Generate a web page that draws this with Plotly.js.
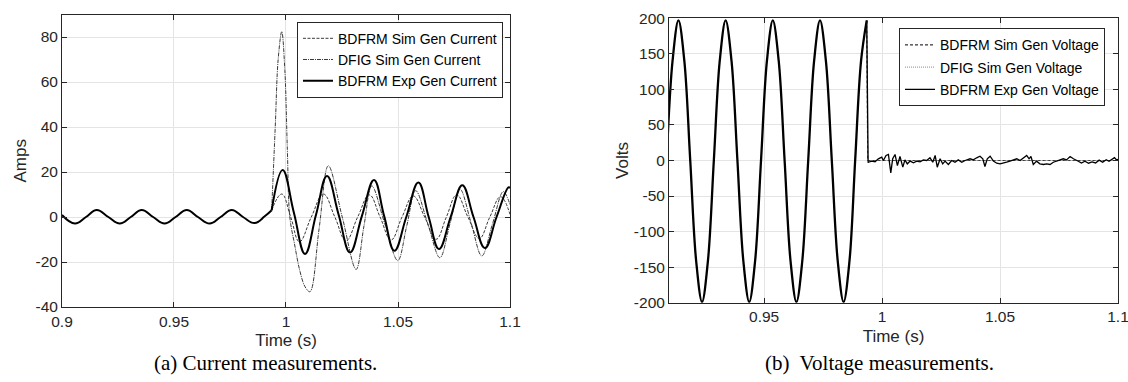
<!DOCTYPE html>
<html>
<head>
<meta charset="utf-8">
<script src="https://cdn.plot.ly/plotly-3.0.1.min.js"></script>
<style>html,body{margin:0;padding:0;background:#fff;}#chart{width:1128px;height:382px;}</style>
</head>
<body>
<div id="chart"></div>
<script>
// ---------- (a) Current measurements ----------
// pre-fault current (all three series coincide)
const preCurT = [0.9000, 0.9058, 0.9107, 0.9155, 0.9207, 0.9258, 0.9307, 0.9356, 0.9407, 0.9458, 0.9507, 0.9557, 0.9607, 0.9659, 0.9708, 0.9758, 0.9808, 0.9860, 0.9905, 0.9936];
const preCurI = [0.9, -2.9, 0, 3.1, 0, -2.9, 0, 3.1, 0, -2.9, 0, 3.1, 0, -2.9, 0, 3.1, 0, -2.7, 0.3, 3.0];
// post-fault: BDFRM simulated
const bdfrmSimT = [0.9936, 0.9981, 1.0021, 1.0060, 1.0113, 1.0167, 1.0218, 1.0268, 1.0320, 1.0372, 1.0420, 1.0469, 1.0518, 1.0568, 1.0619, 1.0670, 1.0716, 1.0762, 1.0812, 1.0863, 1.0910, 1.0958, 1.1000];
const bdfrmSimI = [3.0, 10.2, 0, -11.0, 0, 10.2, 0, -10.5, 0, 9.8, 0, -10.2, 0, 9.3, 0, -9.9, 0, 9.8, 0, -9.5, 0, 9.0, 1.2];
// post-fault: DFIG simulated
const dfigSimT = [0.9936, 0.9952, 0.9965, 0.9981, 0.9995, 1.0006, 1.0017, 1.0038, 1.0062, 1.0085, 1.0107, 1.0148, 1.0189, 1.0251, 1.0313, 1.0348, 1.0383, 1.0441, 1.0499, 1.0539, 1.0579, 1.0633, 1.0687, 1.0732, 1.0777, 1.0826, 1.0874, 1.0922, 1.0970, 1.1000];
const dfigSimI = [3.0, 40, 70, 82.4, 65, 30, 0, -12, -24, -31, -33.2, -5, 22.8, 0, -23.3, -4, 13.8, -3, -19.4, -4, 11.7, -3, -18.1, -3, 12.3, -2.5, -17.3, -3, 11.3, 5.5];
// post-fault: BDFRM experimental
const bdfrmExpT = [0.9936, 0.9985, 1.0035, 1.0085, 1.0134, 1.0183, 1.0235, 1.0286, 1.0339, 1.0393, 1.0438, 1.0484, 1.0537, 1.0591, 1.0637, 1.0683, 1.0735, 1.0787, 1.0837, 1.0888, 1.0940, 1.0993, 1.1000];
const bdfrmExpI = [3.0, 20.9, 2.0, -16.4, 1.0, 18.2, 1.0, -15.8, 0.5, 16.4, 0.5, -15.0, 0, 15.3, 0, -14.2, 0, 14.1, 0, -13.8, 0, 13.2, 12.9];

// ---------- (b) Voltage measurements ----------
const preVoltT = [0.9087, 0.9112, 0.9137, 0.9162, 0.9187, 0.9212, 0.9237, 0.9262, 0.9287, 0.9312, 0.9337, 0.9362, 0.9387, 0.9412, 0.9437, 0.9462, 0.9487, 0.9512, 0.9537, 0.9562, 0.9587, 0.9612, 0.9637, 0.9662, 0.9687, 0.9712, 0.9737, 0.9762, 0.9787, 0.9812, 0.9837, 0.9862, 0.9886, 0.9911, 0.9935];
const preVoltV = [0, 140, 197, 140, 0, -141, -199, -141, 0, 140, 197, 140, 0, -141, -199, -141, 0, 140, 197, 140, 0, -141, -199, -141, 0, 140, 197, 140, 0, -141, -199, -141, 0, 140, 197];
const bdfrmSimVT = [0.9935, 0.9939, 1.1000];
const bdfrmSimVV = [197, 0, 0];
const dfigSimVT = [0.9935, 0.9939, 1.1000];
const dfigSimVV = [197, 0, 0];
const bdfrmExpVT = [0.9935, 0.9941, 0.99421, 0.99562, 0.99703, 0.99845, 0.99986, 1.00056, 1.0017, 1.0027, 1.0037, 1.0045, 1.0055, 1.0065, 1.0076, 1.0088, 1.0097, 1.0107, 1.0119, 1.0133, 1.0147, 1.0161, 1.0175, 1.0189, 1.0203, 1.0215, 1.0225, 1.0234, 1.0246, 1.0257, 1.0267, 1.0281, 1.0295, 1.0309, 1.0323, 1.0338, 1.0352, 1.0373, 1.0387, 1.0401, 1.0415, 1.0427, 1.0436, 1.0446, 1.0458, 1.0472, 1.0486, 1.0500, 1.0514, 1.0528, 1.0542, 1.0556, 1.0571, 1.0585, 1.0599, 1.0613, 1.0623, 1.0631, 1.0641, 1.0655, 1.0669, 1.0684, 1.0698, 1.0712, 1.0726, 1.0740, 1.0754, 1.0768, 1.0782, 1.0797, 1.0811, 1.0818, 1.0832, 1.0845, 1.0860, 1.0875, 1.0890, 1.0905, 1.0920, 1.0935, 1.0950, 1.0962, 1.0975, 1.0985, 1.0993, 1.1000];
const bdfrmExpVV = [197, -3, -2.4, -0.9, -1.9, 2.4, 4.7, 0, 7.1, 8.5, -17.4, 2.4, 8.5, -7.1, 5.6, -9.4, 0.9, -4.7, -0.9, -3.3, -0.9, -1.9, 0.9, 0, 3.8, -2.4, 7.1, -9.4, 2.4, -4.7, -0.9, -5.6, 0, -2.4, 0.9, -2.4, 0, 2.4, 0.9, 3.8, 6.1, 2.4, -8.5, 2.4, 6.1, -0.9, -3.8, -4.7, -3.8, -2.4, -0.9, 0.9, 2.4, 0, 3.8, 7.1, 2.4, 5.6, -5.6, -0.9, -4.7, -5.6, -4.7, -5.6, -2.4, -0.9, 0.9, 2.4, 0.9, 5.6, 2.4, 0.9, -1, -3.5, -1, -3.8, -2, -3.5, 0.5, -2.5, 1, -1, 2.5, 4, 1, 1.5];

// ---------- ticks ----------
const xTicksA = [0.9, 0.95, 1, 1.05, 1.1];
const xTickTextA = ['0.9', '0.95', '1', '1.05', '1.1'];
const yTicksA = [-40, -20, 0, 20, 40, 60, 80];
const yTickTextA = ['-40', '-20', '0', '20', '40', '60', '80'];
const xTicksB = [0.95, 1, 1.05, 1.1];
const xTickTextB = ['0.95', '1', '1.05', '1.1'];
const yTicksB = [-200, -150, -100, -50, 0, 50, 100, 150, 200];
const yTickTextB = ['-200', '-150', '-100', '-50', '0', '50', '100', '150', '200'];

const AX = '#262626';
const GRID = '#e4e4e4';
const SANS = 'Liberation Sans, Arial, sans-serif';
const SERIF = 'Liberation Serif, serif';

const traces = [
  // current, pre-fault (identical for all series)
  {x: preCurT, y: preCurI, xaxis: 'x', yaxis: 'y', mode: 'lines', showlegend: false, hoverinfo: 'skip',
   line: {color: '#000', width: 2, shape: 'spline', smoothing: 1.2}},
  {x: bdfrmSimT, y: bdfrmSimI, xaxis: 'x', yaxis: 'y', mode: 'lines', name: 'BDFRM Sim Gen Current',
   line: {color: '#3a3a3a', width: 1, dash: '3px,1.5px', shape: 'spline', smoothing: 1.2}},
  {x: dfigSimT, y: dfigSimI, xaxis: 'x', yaxis: 'y', mode: 'lines', name: 'DFIG Sim Gen Current',
   line: {color: '#3a3a3a', width: 1, dash: '4px,1px,1px,1px', shape: 'spline', smoothing: 1.0}},
  {x: bdfrmExpT, y: bdfrmExpI, xaxis: 'x', yaxis: 'y', mode: 'lines', name: 'BDFRM Exp Gen Current',
   line: {color: '#000', width: 2, shape: 'spline', smoothing: 1.2}},

  // voltage, pre-fault (identical for all series)
  {x: preVoltT, y: preVoltV, xaxis: 'x2', yaxis: 'y2', mode: 'lines', showlegend: false, hoverinfo: 'skip',
   line: {color: '#000', width: 2.3, shape: 'spline', smoothing: 1.0}},
  {x: bdfrmSimVT, y: bdfrmSimVV, xaxis: 'x2', yaxis: 'y2', mode: 'lines', name: 'BDFRM Sim Gen Voltage',
   legend: 'legend2', legendgroup: 'g1', line: {color: '#000', width: 1, dash: '3px,2px'}},
  {x: dfigSimVT, y: dfigSimVV, xaxis: 'x2', yaxis: 'y2', mode: 'lines', name: 'DFIG Sim Gen Voltage',
   legend: 'legend2', legendgroup: 'g2', line: {color: '#8a8a8a', width: 1, dash: '1px,1px'}},
  {x: bdfrmExpVT, y: bdfrmExpVV, xaxis: 'x2', yaxis: 'y2', mode: 'lines', name: 'BDFRM Exp Gen Voltage',
   legend: 'legend2', legendgroup: 'g3', line: {color: '#000', width: 1.3}}
];

function xax(domain, range, tv, tt, anchor) {
  return {domain: domain, range: range, anchor: anchor, tickvals: tv, ticktext: tt, ticks: 'inside', ticklen: 5,
    tickcolor: AX, showline: true, linecolor: AX, linewidth: 1, mirror: 'allticks', showgrid: true,
    gridcolor: GRID, zeroline: false, ticklabeloverflow: 'allow', tickfont: {family: SANS, size: 15.5, color: AX},
    title: {text: 'Time (s)', font: {family: SANS, size: 17, color: AX}, standoff: 5}};
}
function yax(domain, range, tv, tt, title, anchor, standoff) {
  return {domain: domain, range: range, anchor: anchor, tickvals: tv, ticktext: tt, ticks: 'inside', ticklen: 5,
    tickcolor: AX, showline: true, linecolor: AX, linewidth: 1, mirror: 'allticks', showgrid: true,
    gridcolor: GRID, zeroline: false, ticklabeloverflow: 'allow', tickfont: {family: SANS, size: 15.5, color: AX},
    title: {text: title, font: {family: SANS, size: 17, color: AX}, standoff: standoff}};
}

const layout = {
  width: 1128, height: 382,
  margin: {l: 0, r: 0, t: 0, b: 0},
  paper_bgcolor: '#fff', plot_bgcolor: '#fff',
  font: {family: SANS, color: AX},
  xaxis: xax([0.05496, 0.45213], [0.9, 1.1], xTicksA, xTickTextA, 'y'),
  yaxis: yax([0.19634, 0.96204], [-40, 90], yTicksA, yTickTextA, 'Amps', 'x', 4),
  xaxis2: xax([0.59309, 0.99113], [0.9097, 1.1], xTicksB, xTickTextB, 'y2'),
  yaxis2: yax([0.20759, 0.95209], [-200, 200], yTicksB, yTickTextB, 'Volts', 'x2', 0),
  legend: {x: 0.4459, y: 0.9432, xanchor: 'right', yanchor: 'top', bgcolor: '#fff', bordercolor: AX,
    borderwidth: 1, font: {family: SANS, size: 14, color: '#000'}, itemwidth: 30, tracegroupgap: 0},
  legend2: {x: 0.9796, y: 0.9259, xanchor: 'right', yanchor: 'top', bgcolor: '#fff', bordercolor: AX,
    borderwidth: 1, font: {family: SANS, size: 14, color: '#000'}, itemwidth: 30, traceorder: 'grouped', tracegroupgap: 1},
  annotations: [
    {text: '(a) Current measurements.', xref: 'paper', yref: 'paper', x: 0.2358, y: 0.0497,
     xanchor: 'center', yanchor: 'middle', showarrow: false, font: {family: SERIF, size: 21, color: '#000'}},
    {text: '(b)  Voltage measurements.', xref: 'paper', yref: 'paper', x: 0.7801, y: 0.0497,
     xanchor: 'center', yanchor: 'middle', showarrow: false, font: {family: SERIF, size: 21, color: '#000'}}
  ]
};

Plotly.newPlot('chart', traces, layout, {displayModeBar: false, staticPlot: true});
</script>
</body>
</html>
